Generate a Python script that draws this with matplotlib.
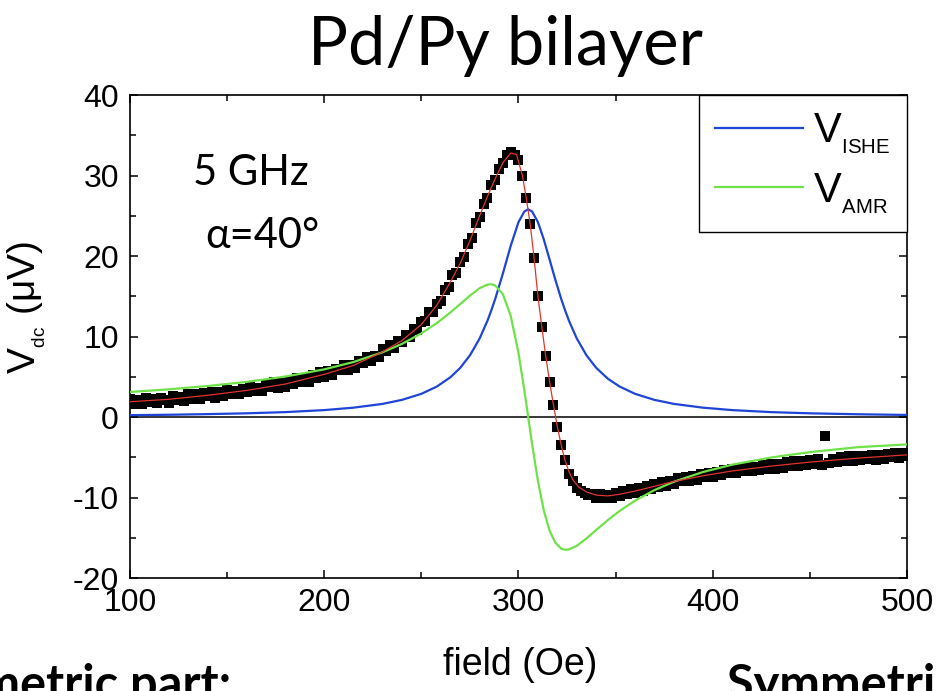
import numpy as np
import matplotlib.pyplot as plt
from matplotlib.ticker import MultipleLocator

# measured dc voltage (uV), field sweep 100..500 Oe in 2 Oe steps
field = np.arange(100, 501, 2)
v_dc = [
    2.2, 1.6, 2.1, 1.6, 2.4, 1.9, 2.3, 1.7, 2.4, 2.1,
    1.8, 2.6, 2.1, 2.5, 2.0, 2.8, 2.2, 2.8, 2.2, 3.0,
    2.6, 3.1, 2.4, 3.1, 2.6, 3.4, 2.9, 3.2, 2.8, 3.5,
    3.1, 3.8, 3.2, 3.6, 3.2, 4.0, 3.7, 4.3, 3.6, 4.2,
    3.7, 4.5, 4.1, 4.9, 4.3, 4.8, 4.4, 5.2, 4.9, 5.6,
    5.0, 5.7, 5.2, 6.0, 5.8, 6.4, 5.9, 6.5, 6.1, 7.0,
    6.7, 7.5, 7.0, 7.6, 7.4, 8.4, 8.2, 8.9, 8.6, 9.5,
    9.3, 10.2, 10.0, 10.9, 10.8, 11.8, 11.9, 13.0, 13.0, 14.1,
    14.4, 15.8, 16.1, 17.6, 17.9, 19.3, 19.9, 21.5, 22.3, 24.1,
    24.8, 26.4, 27.2, 28.8, 29.5, 30.8, 31.5, 32.5, 32.9, 32.6,
    31.9, 30.0, 27.2, 24.0, 19.8, 15.0, 11.2, 7.6, 4.4, 1.5,
    -1.2, -3.5, -5.4, -7.1, -8.0, -8.8, -9.2, -9.4, -9.7, -9.6,
    -10.0, -9.6, -10.1, -9.7, -10.0, -9.5, -9.8, -9.2, -9.6, -9.0,
    -9.4, -8.8, -9.2, -8.6, -9.0, -8.3, -8.7, -8.1, -8.6, -7.9,
    -8.3, -7.6, -8.0, -7.4, -7.9, -7.3, -7.8, -7.1, -7.5, -6.9,
    -7.4, -6.8, -7.2, -6.6, -7.0, -6.5, -7.0, -6.3, -6.7, -6.2,
    -6.7, -6.2, -6.6, -5.9, -6.4, -5.8, -6.4, -5.8, -6.3, -5.6,
    -6.1, -5.5, -6.1, -5.5, -6.0, -5.3, -5.8, -5.2, -5.9, -2.3,
    -5.7, -5.2, -5.6, -5.0, -5.5, -4.9, -5.5, -4.9, -5.4, -4.8,
    -5.2, -4.7, -5.3, -4.7, -5.2, -4.6, -5.0, -4.5, -5.1, -4.5,
    -4.9,
]

# total fit
fit_field = [100, 120, 140, 160, 180, 200, 215, 230, 240, 250,
             258, 265, 270, 275, 280, 284, 288, 292, 296, 299,
             302, 304, 306, 308, 310, 312, 314, 316, 318, 320,
             322, 324, 326, 328, 331, 335, 340, 346, 352, 360,
             370, 380, 395, 410, 430, 450, 475, 500]
fit_total = [1.9, 2.2, 2.7, 3.3, 4.1, 5.3, 6.4, 8.1, 9.5, 11.5,
             13.9, 16.8, 19.1, 21.9, 25.0, 27.4, 29.6, 31.6, 32.8, 32.6,
             30.0, 27.2, 24.0, 19.8, 15.0, 11.2, 7.6, 4.4, 1.5, -1.2,
             -3.5, -5.4, -6.8, -7.8, -8.7, -9.3, -9.7, -9.8, -9.6, -9.2,
             -8.6, -8.0, -7.3, -6.7, -6.1, -5.6, -5.1, -4.7]

# symmetric (ISHE) and antisymmetric (AMR) parts of the fit
comp_field = [100, 120, 140, 160, 180, 200, 215, 230, 240, 250,
              258, 265, 270, 275, 280, 284, 286, 288, 292, 296,
              300, 303, 305, 307, 310, 313, 316, 319, 322, 324,
              326, 330, 335, 340, 346, 352, 360, 370, 380, 395,
              410, 430, 450, 475, 500]
v_ishe = [0.23, 0.28, 0.36, 0.46, 0.61, 0.86, 1.16, 1.63, 2.13, 2.88,
          3.79, 4.95, 6.11, 7.66, 9.76, 11.95, 13.24, 14.66, 17.86, 21.27,
          24.21, 25.53, 25.8, 25.53, 24.21, 22.08, 19.57, 17.02, 14.66, 13.24,
          11.95, 9.76, 7.66, 6.11, 4.76, 3.79, 2.88, 2.13, 1.63, 1.16,
          0.86, 0.61, 0.46, 0.34, 0.26]
v_amr = [3.11, 3.44, 3.85, 4.36, 5.03, 5.92, 6.83, 8.04, 9.08, 10.39,
         11.68, 13.0, 14.03, 15.08, 16.0, 16.45, 16.49, 16.35, 15.23, 12.56,
         7.94, 3.35, 0.0, -3.35, -7.94, -11.59, -14.12, -15.63, -16.35, -16.49,
         -16.45, -16.0, -15.08, -14.03, -12.8, -11.68, -10.39, -9.08, -8.04, -6.83,
         -5.92, -5.03, -4.36, -3.74, -3.4]

plt.rcParams['font.family'] = ['Liberation Sans', 'DejaVu Sans']
plt.rcParams['mathtext.default'] = 'regular'
plt.rcParams['axes.unicode_minus'] = False

fig = plt.figure(figsize=(9.36, 6.91), dpi=100)
ax = fig.add_axes([0.1389, 0.1635, 0.8301, 0.699])

ax.axhline(0, color='black', lw=1.1, zorder=1)
ax.plot(field, v_dc, 's', color='black', ms=6.6, mew=0, zorder=2)
l_ishe, = ax.plot(comp_field, v_ishe, color='#1f44d8', lw=1.6, zorder=3)
l_amr, = ax.plot(comp_field, v_amr, color='#6fe24a', lw=1.6, zorder=3)
ax.plot(fit_field, fit_total, color='#e0352c', lw=0.9, zorder=4)

ax.set_xlim(100, 500)
ax.set_ylim(-20, 40)
ax.xaxis.set_major_locator(MultipleLocator(100))
ax.xaxis.set_minor_locator(MultipleLocator(50))
ax.yaxis.set_major_locator(MultipleLocator(10))
ax.yaxis.set_minor_locator(MultipleLocator(5))
ax.tick_params(which='both', direction='in', top=True, right=True, width=1.1)
ax.tick_params(which='major', length=6, labelsize=23)
ax.tick_params(axis='x', which='major', pad=7)
ax.tick_params(axis='y', which='major', pad=8)
ax.tick_params(which='minor', length=4)
for s in ax.spines.values():
    s.set_linewidth(1.2)

ax.set_xlabel('field (Oe)', fontsize=27)
ax.xaxis.set_label_coords(0.502, -0.142)
ax.set_ylabel(r'$V_{{}_{dc}}$ (μV)', fontsize=28)
ax.yaxis.set_label_coords(-0.105, 0.56)

leg = ax.legend([l_ishe, l_amr], [r'$V_{{}_{ISHE}}$', r'$V_{{}_{AMR}}$'],
                loc='upper right', borderaxespad=0, fancybox=False,
                edgecolor='black', framealpha=1,
                prop={'family': 'Liberation Sans', 'size': 30},
                handlelength=2.1, handletextpad=0.25, labelspacing=0.35,
                borderpad=0.4)
leg.get_frame().set_linewidth(1.0)

calibri_like = ['Lato', 'DejaVu Sans']
fig.text(505 / 936, 1 - 65 / 691, 'Pd/Py bilayer', ha='center', va='baseline',
         fontsize=48, family=calibri_like)
fig.text(193 / 936, 1 - 185 / 691, '5 GHz', va='baseline', fontsize=30,
         family=calibri_like)
fig.text(205 / 936, 1 - 248 / 691, 'α=40°', va='baseline', fontsize=30,
         family=calibri_like)
fig.text(232 / 936, 1 - 700 / 691, 'Antisymmetric part:', ha='right',
         va='baseline', fontsize=35, fontweight='bold', family=calibri_like)
fig.text(727 / 936, 1 - 700 / 691, 'Symmetric part:', ha='left',
         va='baseline', fontsize=35, fontweight='bold', family=calibri_like)

fig.savefig('out.png', dpi=100)
